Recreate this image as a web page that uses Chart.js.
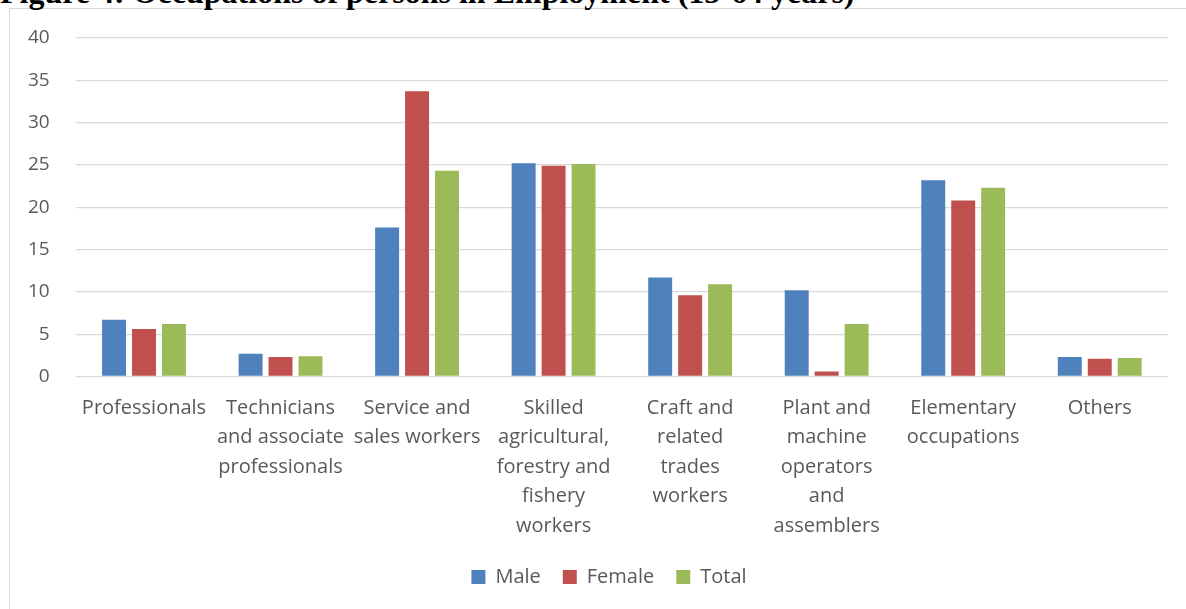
<!DOCTYPE html>
<html>
<head>
<meta charset="utf-8">
<script src="https://cdn.jsdelivr.net/npm/chart.js@4"></script>
<style>
    html, body { margin: 0; padding: 0; background: #fff; overflow: hidden; }
    #title {
        position: absolute; left: 0; top: -26px; white-space: nowrap; line-height: 32px;
        font: bold 32px "Liberation Serif", "Times New Roman", serif; color: #000;
    }
    #frame {
        position: absolute; left: 9px; top: 8px; width: 1200px; height: 620px;
        border: 1px solid #d9d9d9; background: #fff;
    }
    #wrap { position: absolute; left: 0; top: 0; width: 1186px; height: 609px; }
</style>
</head>
<body>
<div id="frame"></div>
<div id="title">Figure 4: Occupations of persons in Employment (15-64 years)</div>
<div id="wrap"><canvas id="chart" width="1186" height="609"></canvas></div>

<script>
// ----------------------------------------------------------------------------
// Data
// ----------------------------------------------------------------------------
const categories = [
    'Professionals',
    ['Technicians', 'and associate', 'professionals'],
    ['Service and', 'sales workers'],
    ['Skilled', 'agricultural,', 'forestry and', 'fishery', 'workers'],
    ['Craft and', 'related', 'trades', 'workers'],
    ['Plant and', 'machine', 'operators', 'and', 'assemblers'],
    ['Elementary', 'occupations'],
    'Others'
];

const maleValues   = [6.7, 2.7, 17.6, 25.2, 11.7, 10.2, 23.2, 2.3];
const femaleValues = [5.6, 2.3, 33.7, 24.9, 9.6, 0.6, 20.8, 2.1];
const totalValues  = [6.2, 2.4, 24.3, 25.1, 10.9, 6.2, 22.3, 2.2];

const yTicks = { min: 0, max: 40, step: 5 };

const FONT = '"Open Sans", Calibri, sans-serif';
const TEXT_COLOR = '#595959';
const GRID_COLOR = '#d9d9d9';

document.addEventListener('DOMContentLoaded', () => {
    drawChart();
});

// the legend in the original sits a little right of the canvas centre
const legendShift = {
    id: 'legendShift',
    afterLayout(chart) {
        if (!chart.legend) return;
        chart.legend.left += 24;
        chart.legend.right += 24;
    }
};

/**
 * Draw the grouped bar chart
 */
function drawChart() {
    const ctx = document.getElementById('chart');

    new Chart(ctx, {
        type: 'bar',
        data: {
            labels: categories,
            datasets: [
                { label: 'Male',   data: maleValues,   backgroundColor: '#4f81bd' },
                { label: 'Female', data: femaleValues, backgroundColor: '#c0504d' },
                { label: 'Total',  data: totalValues,  backgroundColor: '#9bbb59' }
            ]
        },
        plugins: [legendShift],
        options: {
            responsive: false,
            animation: false,
            categoryPercentage: 0.658,
            barPercentage: 0.8,
            layout: {
                padding: { left: 2, right: 18, top: 38, bottom: 12 }
            },
            plugins: {
                legend: {
                    position: 'bottom',
                    labels: {
                        color: TEXT_COLOR,
                        boxWidth: 14,
                        boxHeight: 14,
                        padding: 22,
                        font: { size: 20, family: FONT }
                    }
                },
                tooltip: { enabled: false }
            },
            scales: {
                x: {
                    grid: { display: false, drawTicks: false },
                    border: { display: false },
                    afterFit: (scale) => { scale.height -= 13; },
                    ticks: {
                        color: TEXT_COLOR,
                        padding: 17,
                        maxRotation: 0,
                        autoSkip: false,
                        font: { size: 20, family: FONT, lineHeight: 1.475 }
                    }
                },
                y: {
                    min: yTicks.min,
                    max: yTicks.max,
                    grid: { color: GRID_COLOR, lineWidth: 1.3, drawTicks: false },
                    border: { display: false },
                    ticks: {
                        stepSize: yTicks.step,
                        color: TEXT_COLOR,
                        padding: 26,
                        font: { size: 19, family: FONT }
                    }
                }
            }
        }
    });
}
</script>
</body>
</html>
